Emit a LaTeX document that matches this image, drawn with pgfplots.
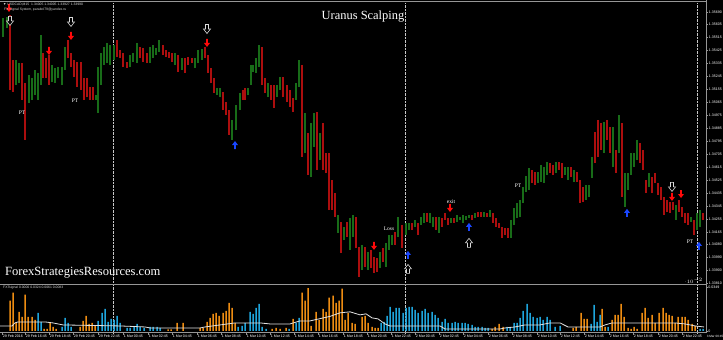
\documentclass[border=0pt]{standalone}
\usepackage{pgfplots}
\pgfplotsset{compat=1.18}
\usepackage{pgfplotstable}
\usepackage{fontspec}
\setmainfont{Liberation Sans}
\newfontfamily\seriffont{Liberation Serif}
\definecolor{bred}{RGB}{172,14,14}
\definecolor{bgreen}{RGB}{24,108,24}
\definecolor{ared}{RGB}{255,10,10}
\definecolor{ablue}{RGB}{25,70,255}
\definecolor{horange}{RGB}{238,140,18}
\definecolor{hblue}{RGB}{30,165,220}
\definecolor{framegray}{RGB}{150,150,150}
\newcommand\tickfont{\fontsize{3.6}{4}\selectfont}
\pgfdeclareplotmark{adown}{%
\pgfpathmoveto{\pgfqpoint{-0.9bp}{4bp}}\pgfpathlineto{\pgfqpoint{0.9bp}{4bp}}%
\pgfpathlineto{\pgfqpoint{0.9bp}{0bp}}\pgfpathlineto{\pgfqpoint{3bp}{0bp}}%
\pgfpathlineto{\pgfqpoint{0bp}{-4bp}}\pgfpathlineto{\pgfqpoint{-3bp}{0bp}}%
\pgfpathlineto{\pgfqpoint{-0.9bp}{0bp}}\pgfpathclose\pgfusepathqfill}
\pgfdeclareplotmark{aup}{%
\pgfpathmoveto{\pgfqpoint{-0.9bp}{-4bp}}\pgfpathlineto{\pgfqpoint{0.9bp}{-4bp}}%
\pgfpathlineto{\pgfqpoint{0.9bp}{0bp}}\pgfpathlineto{\pgfqpoint{3bp}{0bp}}%
\pgfpathlineto{\pgfqpoint{0bp}{4bp}}\pgfpathlineto{\pgfqpoint{-3bp}{0bp}}%
\pgfpathlineto{\pgfqpoint{-0.9bp}{0bp}}\pgfpathclose\pgfusepathqfill}
\pgfdeclareplotmark{hdown}{%
\pgfpathmoveto{\pgfqpoint{-1.5bp}{4.5bp}}\pgfpathlineto{\pgfqpoint{1.5bp}{4.5bp}}%
\pgfpathlineto{\pgfqpoint{1.5bp}{0bp}}\pgfpathlineto{\pgfqpoint{3.5bp}{0bp}}%
\pgfpathlineto{\pgfqpoint{0bp}{-4.5bp}}\pgfpathlineto{\pgfqpoint{-3.5bp}{0bp}}%
\pgfpathlineto{\pgfqpoint{-1.5bp}{0bp}}\pgfpathclose\pgfusepathqfillstroke}
\pgfdeclareplotmark{hup}{%
\pgfpathmoveto{\pgfqpoint{-1.5bp}{-4.5bp}}\pgfpathlineto{\pgfqpoint{1.5bp}{-4.5bp}}%
\pgfpathlineto{\pgfqpoint{1.5bp}{0bp}}\pgfpathlineto{\pgfqpoint{3.5bp}{0bp}}%
\pgfpathlineto{\pgfqpoint{0bp}{4.5bp}}\pgfpathlineto{\pgfqpoint{-3.5bp}{0bp}}%
\pgfpathlineto{\pgfqpoint{-1.5bp}{0bp}}\pgfpathclose\pgfusepathqfillstroke}

\pgfplotstableread{
x v
10 0.0240
13 0.0304
16 0.0064
19 0.0152
22 0.0112
25 0.0288
28 0.0112
32 0.0112
35 0.0088
44 0.0016
47 0.0016
50 0.0064
53 0.0032
56 0.0016
80 0.0032
83 0.0080
86 0.0120
89 0.0056
92 0.0064
95 0.0040
168 0.0012
171 0.0012
177 0.0064
183 0.0064
200 0.0024
203 0.0024
207 0.0072
210 0.0104
213 0.0136
216 0.0144
219 0.0120
223 0.0144
226 0.0160
229 0.0224
232 0.0184
235 0.0064
272 0.0016
276 0.0024
280 0.0016
286 0.0024
293 0.0096
302 0.0304
305 0.0240
308 0.0340
311 0.0040
316 0.0152
319 0.0088
323 0.0176
326 0.0152
329 0.0264
333 0.0280
336 0.0224
339 0.0240
342 0.0336
345 0.0088
348 0.0144
352 0.0064
355 0.0056
362 0.0112
365 0.0120
368 0.0064
372 0.0032
375 0.0024
378 0.0024
492 0.0016
495 0.0032
499 0.0056
503 0.0032
573 0.0024
576 0.0032
581 0.0144
584 0.0096
587 0.0096
602 0.0176
605 0.0032
612 0.0088
615 0.0128
618 0.0128
621 0.0216
624 0.0112
628 0.0024
631 0.0016
634 0.0032
637 0.0016
642 0.0144
645 0.0184
648 0.0104
652 0.0128
655 0.0064
659 0.0144
663 0.0184
666 0.0144
669 0.0128
672 0.0120
675 0.0064
678 0.0112
682 0.0112
685 0.0112
688 0.0088
692 0.0056
695 0.0040
}\orangehist

\pgfplotstableread{
x v
38 0.0144
41 0.0072
62 0.0032
65 0.0104
68 0.0064
71 0.0032
98 0.0080
102 0.0144
105 0.0176
108 0.0072
111 0.0096
114 0.0088
117 0.0120
120 0.0064
127 0.0024
130 0.0024
134 0.0032
137 0.0056
140 0.0032
144 0.0024
150 0.0032
153 0.0032
157 0.0032
160 0.0024
238 0.0032
242 0.0040
245 0.0064
250 0.0152
253 0.0136
256 0.0184
259 0.0216
262 0.0032
266 0.0016
289 0.0016
296 0.0064
299 0.0104
381 0.0064
384 0.0072
387 0.0120
390 0.0192
393 0.0152
396 0.0184
399 0.0184
403 0.0144
406 0.0184
409 0.0192
412 0.0192
415 0.0168
418 0.0144
422 0.0160
425 0.0176
428 0.0144
432 0.0152
435 0.0128
438 0.0104
442 0.0072
445 0.0096
448 0.0064
452 0.0064
455 0.0072
458 0.0064
462 0.0064
465 0.0064
468 0.0056
472 0.0048
475 0.0032
478 0.0032
482 0.0032
485 0.0024
488 0.0024
507 0.0032
510 0.0032
514 0.0064
517 0.0064
520 0.0104
523 0.0160
527 0.0216
530 0.0144
533 0.0112
537 0.0104
540 0.0112
543 0.0088
547 0.0112
550 0.0088
555 0.0032
560 0.0040
591 0.0056
594 0.0208
597 0.0072
600 0.0128
608 0.0032
700 0.0016
703 0.0016
}\bluehist

\begin{document}
\begin{tikzpicture}
\fill[black] (0bp,0bp) rectangle (723bp,340bp);

\begin{axis}[
  at={(0bp,56bp)}, anchor=south west, scale only axis,
  width=706bp, height=281bp,
  xmin=0, xmax=706, ymin=1.338031, ymax=1.357524,
  y coord trafo/.code={\pgfmathparse{(#1-1.3)*10000}},
  y coord inv trafo/.code={\pgfmathparse{#1/10000+1.3}},
  unbounded coords=jump,
  clip=false,
  axis line style={draw=none},
  xtick=\empty,
  extra x ticks={113,405,697}, extra x tick labels={},
  extra x tick style={grid=major, major tick length=0pt},
  major grid style={white!78!black, densely dotted, line width=0.6bp},
  ytick pos=right, yticklabel pos=right,
  ytick={1.35690,1.35605,1.35515,1.35425,1.35335,1.35245,1.35155,1.35065,1.34975,1.34885,1.34795,1.34705,1.34615,1.34525,1.34435,1.34345,1.34255,1.34165,1.34080,1.33990,1.33900,1.33810},
  yticklabels={1.35690,1.35605,1.35515,1.35425,1.35335,1.35245,1.35155,1.35065,1.34975,1.34885,1.34795,1.34705,1.34615,1.34525,1.34435,1.34345,1.34255,1.34165,1.34080,1.33990,1.33900,1.33810},
  tick align=outside, major tick length=2bp,
  ytick style={draw=framegray, line width=0.5bp},
  yticklabel style={font=\tickfont, text=white, inner sep=0.6bp},
]
% bullish bars (low, high)
\addplot[bgreen, line width=1.15bp, mark=none, forget plot] coordinates {
(3,1.35517)(3,1.35648)(3,nan)
(7,1.35579)(7,1.35655)(7,nan)
(16,1.35182)(16,1.35357)(16,nan)
(19,1.35197)(19,1.35336)(19,nan)
(29,1.35059)(29,1.35253)(29,nan)
(32,1.35080)(32,1.35232)(32,nan)
(35,1.35114)(35,1.35288)(35,nan)
(38,1.35080)(38,1.35267)(38,nan)
(41,1.35182)(41,1.35530)(41,nan)
(52,1.35204)(52,1.35322)(52,nan)
(55,1.35197)(55,1.35302)(55,nan)
(58,1.35232)(58,1.35308)(58,nan)
(62,1.35182)(62,1.35308)(62,nan)
(65,1.35288)(65,1.35447)(65,nan)
(96,1.35080)(96,1.35114)(96,nan)
(98,1.34989)(98,1.35308)(98,nan)
(101,1.35182)(101,1.35406)(101,nan)
(104,1.35322)(104,1.35447)(104,nan)
(107,1.35336)(107,1.35475)(107,nan)
(110,1.35322)(110,1.35461)(110,nan)
(114,1.35357)(114,1.35461)(114,nan)
(130,1.35308)(130,1.35392)(130,nan)
(133,1.35343)(133,1.35406)(133,nan)
(137,1.35336)(137,1.35475)(137,nan)
(150,1.35336)(150,1.35447)(150,nan)
(153,1.35371)(153,1.35461)(153,nan)
(156,1.35392)(156,1.35440)(156,nan)
(159,1.35413)(159,1.35496)(159,nan)
(175,1.35322)(175,1.35406)(175,nan)
(182,1.35288)(182,1.35371)(182,nan)
(195,1.35302)(195,1.35371)(195,nan)
(198,1.35336)(198,1.35426)(198,nan)
(202,1.35357)(202,1.35433)(202,nan)
(217,1.35114)(217,1.35163)(217,nan)
(220,1.35100)(220,1.35163)(220,nan)
(232,1.34802)(232,1.34941)(232,nan)
(236,1.34871)(236,1.35045)(236,nan)
(240,1.35010)(240,1.35128)(240,nan)
(248,1.35114)(248,1.35163)(248,nan)
(251,1.35182)(251,1.35322)(251,nan)
(253,1.35274)(253,1.35322)(253,nan)
(256,1.35267)(256,1.35371)(256,nan)
(259,1.35308)(259,1.35461)(259,nan)
(268,1.35100)(268,1.35197)(268,nan)
(277,1.35100)(277,1.35184)(277,nan)
(280,1.35149)(280,1.35239)(280,nan)
(296,1.35080)(296,1.35197)(296,nan)
(299,1.35170)(299,1.35357)(299,nan)
(305,1.34712)(305,1.34989)(305,nan)
(311,1.34545)(311,1.34920)(311,nan)
(314,1.34754)(314,1.34989)(314,nan)
(320,1.34663)(320,1.34851)(320,nan)
(338,1.34157)(338,1.34282)(338,nan)
(344,1.34108)(344,1.34199)(344,nan)
(350,1.34039)(350,1.34261)(350,nan)
(353,1.34129)(353,1.34282)(353,nan)
(362,1.33900)(362,1.34074)(362,nan)
(368,1.33900)(368,1.34025)(368,nan)
(380,1.33914)(380,1.34025)(380,nan)
(386,1.33921)(386,1.34088)(386,nan)
(389,1.34039)(389,1.34143)(389,nan)
(392,1.34074)(392,1.34143)(392,nan)
(398,1.34129)(398,1.34268)(398,nan)
(406,1.34143)(406,1.34226)(406,nan)
(409,1.34178)(409,1.34226)(409,nan)
(415,1.34199)(415,1.34247)(415,nan)
(421,1.34212)(421,1.34268)(421,nan)
(424,1.34226)(424,1.34296)(424,nan)
(430,1.34226)(430,1.34296)(430,nan)
(433,1.34199)(433,1.34268)(433,nan)
(439,1.34157)(439,1.34268)(439,nan)
(451,1.34226)(451,1.34261)(451,nan)
(457,1.34233)(457,1.34282)(457,nan)
(460,1.34247)(460,1.34268)(460,nan)
(463,1.34226)(463,1.34282)(463,nan)
(466,1.34247)(466,1.34275)(466,nan)
(469,1.34261)(469,1.34282)(469,nan)
(475,1.34261)(475,1.34296)(475,nan)
(484,1.34268)(484,1.34303)(484,nan)
(490,1.34268)(490,1.34316)(490,nan)
(511,1.34122)(511,1.34247)(511,nan)
(514,1.34212)(514,1.34330)(514,nan)
(517,1.34261)(517,1.34365)(517,nan)
(520,1.34268)(520,1.34386)(520,nan)
(523,1.34365)(523,1.34476)(523,nan)
(526,1.34441)(526,1.34552)(526,nan)
(529,1.34455)(529,1.34608)(529,nan)
(538,1.34504)(538,1.34580)(538,nan)
(541,1.34511)(541,1.34629)(541,nan)
(544,1.34504)(544,1.34615)(544,nan)
(547,1.34559)(547,1.34649)(547,nan)
(556,1.34573)(556,1.34649)(556,nan)
(565,1.34559)(565,1.34615)(565,nan)
(568,1.34525)(568,1.34615)(568,nan)
(574,1.34511)(574,1.34594)(574,nan)
(586,1.34386)(586,1.34490)(586,nan)
(589,1.34407)(589,1.34490)(589,nan)
(592,1.34538)(592,1.34684)(592,nan)
(604,1.34712)(604,1.34927)(604,nan)
(613,1.34615)(613,1.34892)(613,nan)
(619,1.34712)(619,1.34975)(619,nan)
(625,1.34337)(625,1.34573)(625,nan)
(628,1.34455)(628,1.34573)(628,nan)
(631,1.34559)(631,1.34712)(631,nan)
(634,1.34615)(634,1.34712)(634,nan)
(637,1.34663)(637,1.34802)(637,nan)
(649,1.34476)(649,1.34573)(649,nan)
(676,1.34247)(676,1.34351)(676,nan)
(691,1.34233)(691,1.34268)(691,nan)
(697,1.34178)(697,1.34296)(697,nan)
(700,1.34199)(700,1.34316)(700,nan)
};
% bearish bars (low, high)
\addplot[bred, line width=1.15bp, mark=none, forget plot] coordinates {
(10,1.35149)(10,1.35669)(10,nan)
(13,1.35135)(13,1.35357)(13,nan)
(22,1.35080)(22,1.35336)(22,nan)
(25,1.34802)(25,1.35197)(25,nan)
(43,1.35232)(43,1.35406)(43,nan)
(46,1.35232)(46,1.35371)(46,nan)
(49,1.35182)(49,1.35392)(49,nan)
(68,1.35371)(68,1.35496)(68,nan)
(71,1.35308)(71,1.35406)(71,nan)
(74,1.35239)(74,1.35357)(74,nan)
(77,1.35170)(77,1.35343)(77,nan)
(81,1.35149)(81,1.35343)(81,nan)
(84,1.35080)(84,1.35232)(84,nan)
(87,1.35100)(87,1.35232)(87,nan)
(90,1.35080)(90,1.35170)(90,nan)
(93,1.35080)(93,1.35170)(93,nan)
(117,1.35378)(117,1.35496)(117,nan)
(120,1.35371)(120,1.35426)(120,nan)
(123,1.35308)(123,1.35406)(123,nan)
(127,1.35302)(127,1.35343)(127,nan)
(140,1.35371)(140,1.35447)(140,nan)
(143,1.35343)(143,1.35440)(143,nan)
(147,1.35336)(147,1.35406)(147,nan)
(163,1.35392)(163,1.35461)(163,nan)
(166,1.35378)(166,1.35426)(166,nan)
(169,1.35371)(169,1.35413)(169,nan)
(172,1.35343)(172,1.35406)(172,nan)
(178,1.35274)(178,1.35392)(178,nan)
(185,1.35267)(185,1.35371)(185,nan)
(188,1.35322)(188,1.35378)(188,nan)
(192,1.35336)(192,1.35371)(192,nan)
(205,1.35371)(205,1.35447)(205,nan)
(208,1.35267)(208,1.35392)(208,nan)
(211,1.35197)(211,1.35302)(211,nan)
(214,1.35128)(214,1.35232)(214,nan)
(223,1.35010)(223,1.35135)(223,nan)
(226,1.34975)(226,1.35066)(226,nan)
(229,1.34837)(229,1.35010)(229,nan)
(243,1.35080)(243,1.35149)(243,nan)
(245,1.35080)(245,1.35163)(245,nan)
(262,1.35184)(262,1.35447)(262,nan)
(265,1.35128)(265,1.35232)(265,nan)
(271,1.35080)(271,1.35182)(271,nan)
(274,1.35024)(274,1.35184)(274,nan)
(283,1.35100)(283,1.35239)(283,nan)
(287,1.35066)(287,1.35184)(287,nan)
(290,1.35031)(290,1.35149)(290,nan)
(293,1.34996)(293,1.35093)(293,nan)
(302,1.34684)(302,1.35322)(302,nan)
(308,1.34559)(308,1.34851)(308,nan)
(317,1.34594)(317,1.34996)(317,nan)
(323,1.34594)(323,1.34920)(323,nan)
(326,1.34573)(326,1.34712)(326,nan)
(329,1.34316)(329,1.34712)(329,nan)
(332,1.34316)(332,1.34525)(332,nan)
(335,1.34268)(335,1.34434)(335,nan)
(341,1.34018)(341,1.34233)(341,nan)
(347,1.34129)(347,1.34233)(347,nan)
(356,1.34053)(356,1.34268)(356,nan)
(359,1.33852)(359,1.34060)(359,nan)
(365,1.33921)(365,1.34060)(365,nan)
(371,1.33914)(371,1.34039)(371,nan)
(374,1.33879)(374,1.33990)(374,nan)
(377,1.33886)(377,1.33984)(377,nan)
(383,1.33956)(383,1.34053)(383,nan)
(395,1.34074)(395,1.34164)(395,nan)
(402,1.34053)(402,1.34212)(402,nan)
(412,1.34178)(412,1.34226)(412,nan)
(418,1.34143)(418,1.34226)(418,nan)
(427,1.34233)(427,1.34296)(427,nan)
(436,1.34178)(436,1.34268)(436,nan)
(442,1.34199)(442,1.34261)(442,nan)
(445,1.34247)(445,1.34296)(445,nan)
(448,1.34212)(448,1.34261)(448,nan)
(454,1.34226)(454,1.34261)(454,nan)
(472,1.34247)(472,1.34282)(472,nan)
(478,1.34268)(478,1.34303)(478,nan)
(481,1.34268)(481,1.34303)(481,nan)
(487,1.34268)(487,1.34296)(487,nan)
(493,1.34226)(493,1.34296)(493,nan)
(496,1.34199)(496,1.34261)(496,nan)
(499,1.34192)(499,1.34226)(499,nan)
(502,1.34122)(502,1.34199)(502,nan)
(505,1.34143)(505,1.34192)(505,nan)
(508,1.34122)(508,1.34192)(508,nan)
(532,1.34504)(532,1.34594)(532,nan)
(535,1.34490)(535,1.34580)(535,nan)
(550,1.34573)(550,1.34643)(550,nan)
(553,1.34559)(553,1.34629)(553,nan)
(559,1.34594)(559,1.34649)(559,nan)
(562,1.34538)(562,1.34643)(562,nan)
(571,1.34545)(571,1.34615)(571,nan)
(577,1.34511)(577,1.34580)(577,nan)
(580,1.34365)(580,1.34525)(580,nan)
(583,1.34372)(583,1.34476)(583,nan)
(595,1.34643)(595,1.34858)(595,nan)
(598,1.34684)(598,1.34941)(598,nan)
(601,1.34733)(601,1.34920)(601,nan)
(607,1.34802)(607,1.34941)(607,nan)
(610,1.34712)(610,1.34892)(610,nan)
(616,1.34573)(616,1.34733)(616,nan)
(622,1.34407)(622,1.34920)(622,nan)
(640,1.34643)(640,1.34781)(640,nan)
(643,1.34594)(643,1.34733)(643,nan)
(646,1.34434)(646,1.34525)(646,nan)
(652,1.34434)(652,1.34545)(652,nan)
(655,1.34504)(655,1.34573)(655,nan)
(658,1.34421)(658,1.34504)(658,nan)
(661,1.34386)(661,1.34476)(661,nan)
(664,1.34282)(664,1.34407)(664,nan)
(667,1.34303)(667,1.34386)(667,nan)
(670,1.34296)(670,1.34372)(670,nan)
(673,1.34316)(673,1.34372)(673,nan)
(679,1.34303)(679,1.34386)(679,nan)
(682,1.34268)(682,1.34337)(682,nan)
(685,1.34226)(685,1.34296)(685,nan)
(688,1.34212)(688,1.34296)(688,nan)
(694,1.34143)(694,1.34247)(694,nan)
(703,1.34247)(703,1.34296)(703,nan)
};
% sell signals
\addplot[only marks, mark=adown, color=ared] coordinates {
(9,1.35718) (49,1.35420) (71,1.35524) (207,1.35475) (374,1.34067) (450,1.34330) (672,1.34407) (681,1.34427)};
% buy signals
\addplot[only marks, mark=aup, color=ablue] coordinates {
(235,1.34767) (408,1.34004) (469,1.34199) (627,1.34296) (699,1.34067)};
% hollow arrows
\addplot[only marks, mark=hdown, mark options={draw=white!85!black, fill=black, line width=0.6bp}] coordinates {
(10,1.35628) (71,1.35621) (207,1.35572) (672,1.34476)};
\addplot[only marks, mark=hup, mark options={draw=white!85!black, fill=black, line width=0.6bp}] coordinates {
(408,1.33907) (469,1.34088)};
\node[font={\seriffont\fontsize{5.5}{6}\selectfont}, text=white] at (axis cs:22,1.34989) {PT};
\node[font={\seriffont\fontsize{5.5}{6}\selectfont}, text=white] at (axis cs:75,1.35073) {PT};
\node[font={\seriffont\fontsize{5.5}{6}\selectfont}, text=white] at (axis cs:518,1.34483) {PT};
\node[font={\seriffont\fontsize{5.5}{6}\selectfont}, text=white] at (axis cs:690,1.34094) {PT};
\node[font={\seriffont\fontsize{5.5}{6}\selectfont}, text=white] at (axis cs:389,1.34185) {Loss};
\node[font={\seriffont\fontsize{5.5}{6}\selectfont}, text=white] at (axis cs:451,1.34372) {exit};
\end{axis}

\begin{axis}[
  at={(0bp,7bp)}, anchor=south west, scale only axis,
  width=706bp, height=48bp,
  xmin=0, xmax=706, ymin=-0.0016, ymax=0.0365,
  clip=false,
  axis line style={draw=none},
  xtick pos=bottom,
  xtick={2,25,49,73,98,123,148,172,197,221,246,270,294,318,343,367,391,415,439,463,488,512,537,560,584,609,633,658,682},
  xticklabels={29 Feb 2016,29 Feb 16:45,29 Feb 18:45,29 Feb 20:45,29 Feb 22:45,1 Mar 00:45,1 Mar 02:45,1 Mar 04:45,1 Mar 06:45,1 Mar 08:45,1 Mar 10:45,1 Mar 12:45,1 Mar 14:45,1 Mar 16:45,1 Mar 18:45,1 Mar 20:45,1 Mar 22:45,2 Mar 00:45,2 Mar 02:45,2 Mar 04:45,2 Mar 06:45,2 Mar 08:45,2 Mar 10:45,2 Mar 12:45,2 Mar 14:45,2 Mar 16:45,2 Mar 18:45,2 Mar 20:45,2 Mar 22:45},
  xticklabel style={font=\tickfont, text=white, anchor=north west, inner sep=0.3bp, xshift=0.3bp},
  extra x ticks={113,405,697}, extra x tick labels={},
  extra x tick style={grid=major, major tick length=0pt},
  major grid style={white!78!black, densely dotted, line width=0.6bp},
  ytick pos=right, yticklabel pos=right,
  ytick={0,0.0349}, yticklabels={0,0.0349},
  tick align=outside, major tick length=1.5bp,
  tick style={draw=framegray, line width=0.5bp},
  yticklabel style={font=\tickfont, text=white, inner sep=0.6bp},
]
\addplot[ybar, bar width=1.5bp, fill=horange, draw=none] table[x=x, y=v] {\orangehist};
\addplot[ybar, bar width=1.5bp, fill=hblue, draw=none] table[x=x, y=v] {\bluehist};
\addplot[white!88!black, line width=0.8bp, mark=none] coordinates {
(0,0.0040) (12,0.0040) (15,0.0064) (18,0.0072) (45,0.0072) (53,0.0064) (63,0.0048) (120,0.0040) (145,0.0032) (150,0.0024) (200,0.0024) (205,0.0032) (220,0.0048) (235,0.0064) (260,0.0064) (270,0.0056) (290,0.0056) (300,0.0080) (310,0.0080) (330,0.0116) (340,0.0144) (350,0.0152) (360,0.0128) (366,0.0136) (372,0.0104) (378,0.0096) (385,0.0056) (390,0.0040) (440,0.0040) (445,0.0016) (500,0.0016) (505,0.0024) (515,0.0032) (525,0.0048) (540,0.0048) (550,0.0064) (560,0.0064) (568,0.0032) (600,0.0032) (605,0.0048) (612,0.0064) (650,0.0064) (675,0.0064) (685,0.0056) (695,0.0040) (704,0.0032)};
\end{axis}

% window frame
\draw[framegray, line width=1.2bp] (0bp,338.6bp) -- (706bp,338.6bp);
\draw[framegray, line width=1.6bp] (0bp,55.6bp) -- (706bp,55.6bp);
\draw[framegray, line width=0.6bp] (0bp,7.4bp) -- (706bp,7.4bp);
\draw[framegray, line width=0.8bp] (706bp,7bp) -- (706bp,340bp);

% texts
\node[anchor=west, font=\fontsize{3.4}{4}\selectfont, text=white!85!black, inner sep=0] at (3bp,335.8bp) {▼ USDCAD,M15 \ 1.34005 1.34005 1.33927 1.33990};
\node[anchor=west, font=\fontsize{3.4}{4}\selectfont, text=white!85!black, inner sep=0] at (4bp,330.6bp) {FX Signal System, parabol79@yandex.ru};
\node[anchor=west, font=\fontsize{3.4}{4}\selectfont, text=white!85!black, inner sep=0] at (3bp,52.2bp) {FXTsignal 0.0000 0.0324 0.0061 0.0083};
\node[font={\seriffont\fontsize{12.5}{14}\selectfont}, text=white] at (363bp,323bp) {Uranus Scalping};
\node[anchor=base west, font={\seriffont\fontsize{12.6}{14}\selectfont}, text=white, inner sep=0] at (5bp,64bp) {ForexStrategiesResources.com};
\node[anchor=north west, font=\fontsize{3.1}{4}\selectfont, text=white, inner sep=0.2bp] at (706.4bp,5.4bp) {3 Mar 00:45};
\pgfresetboundingbox
\useasboundingbox (0bp,0bp) rectangle (723bp,340bp);
\end{tikzpicture}
\end{document}
